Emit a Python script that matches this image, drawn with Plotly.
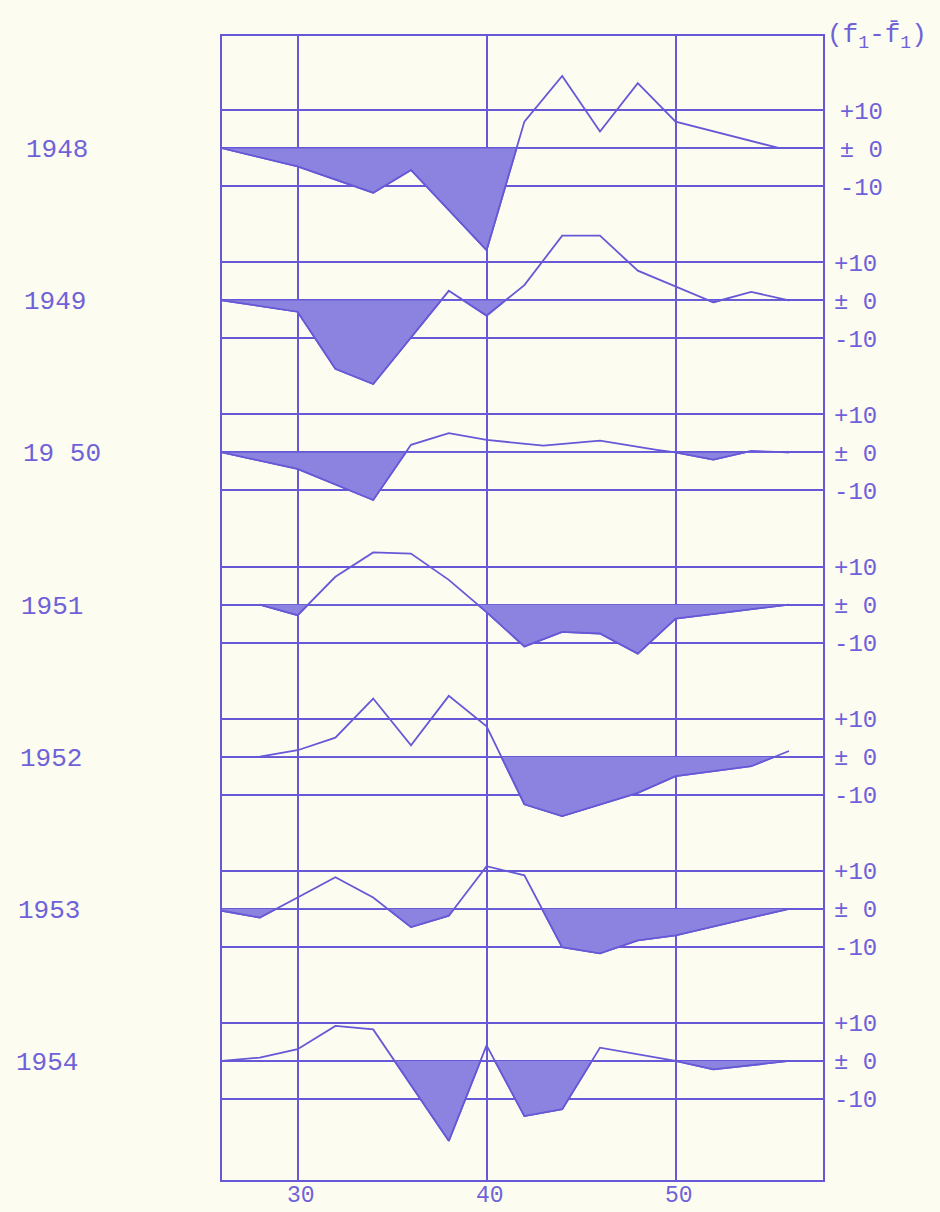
import plotly.graph_objects as go

# ---------------- data ----------------
YEARS = ["1948", "1949", "19 50", "1951", "1952", "1953", "1954"]

AGES_1948 = [26, 30, 34, 36, 40, 42, 44, 46, 48, 50, 55.5]
DEV_1948 = [0, -4.8, -11.7, -5.7, -26.8, 7.0, 19.0, 4.4, 17.1, 7.0, 0]

AGES_1949 = [26, 30, 32, 34, 38, 40, 42, 44, 46, 48, 52, 54, 56]
DEV_1949 = [0, -3.0, -18.0, -22.0, 2.5, -4.0, 4.0, 17.0, 17.0, 7.8, -0.5, 2.2, 0]

AGES_1950 = [26, 30, 34, 36, 38, 40, 43, 46, 49, 50, 52, 54, 56]
DEV_1950 = [0, -4.3, -12.5, 2.0, 5.1, 3.3, 1.8, 3.1, 0.7, 0, -1.9, 0.4, 0]

AGES_1951 = [28, 30, 32, 34, 36, 38, 40, 42, 44, 46, 48, 50, 56]
DEV_1951 = [0, -2.8, 7.3, 13.7, 13.4, 6.5, -2.0, -11.0, -7.2, -7.6, -12.9, -3.7, 0]

AGES_1952 = [28, 30, 32, 34, 36, 38, 40, 42, 44, 48, 50, 54, 56]
DEV_1952 = [0, 1.7, 5.0, 15.3, 3.0, 16.0, 8.0, -12.5, -15.6, -9.5, -5.1, -2.5, 1.5]

AGES_1953 = [26, 28, 30, 32, 34, 36, 38, 40, 42, 44, 46, 48, 50, 56]
DEV_1953 = [-0.5, -2.3, 3.0, 8.3, 3.0, -4.8, -1.8, 11.2, 8.8, -10.1, -11.7, -8.3, -7.0, 0]

AGES_1954 = [26, 28, 30, 32, 34, 38, 40, 42, 44, 46, 50, 52, 56]
DEV_1954 = [0, 0.9, 3.1, 9.2, 8.3, -21.0, 4.1, -14.5, -12.7, 3.5, 0, -2.2, 0]

SERIES = [
    (AGES_1948, DEV_1948), (AGES_1949, DEV_1949), (AGES_1950, DEV_1950),
    (AGES_1951, DEV_1951), (AGES_1952, DEV_1952), (AGES_1953, DEV_1953),
    (AGES_1954, DEV_1954),
]

X_TICKS = [30, 40, 50]
X_TICK_TEXT = ["30", "40", "50"]
Y_TICKS = [-10, 0, 10]
Y_TICK_TEXT = ["-10", "± 0", "+10"]

# ---------------- styling ----------------
INK = "#6658d6"
TEXT_INK = "#6f62d8"
FILL = "#8c83e0"
PAPER = "#fcfcf1"
FONT = "Liberation Mono"

ROW_STEP = 40          # units between row baselines
R0, R1 = -271.3, 29.5  # main (1948) axis range
SPAN = R1 - R0

fig = go.Figure()
layout_axes = {}
n = len(SERIES)

for k, (ages, dev) in enumerate(SERIES):
    line_axis = "y" if k == 0 else f"y{k + 1}"
    fill_axis = f"y{n + 1 + k}"
    # full line on a row axis
    fig.add_trace(go.Scatter(x=ages, y=dev, mode="lines", xaxis="x", yaxis=line_axis,
                             line=dict(color=INK, width=1.8), hoverinfo="skip",
                             showlegend=False))
    # negative part: axis whose domain ends at this row's zero line -> clipped there
    fig.add_trace(go.Scatter(x=ages, y=dev, mode="lines", xaxis="x", yaxis=fill_axis,
                             fill="tozeroy", fillcolor=FILL,
                             line=dict(color=INK, width=1.8), hoverinfo="skip",
                             showlegend=False))

    shift = ROW_STEP * k
    ax = dict(range=[R0 + shift, R1 + shift], side="right", tickvals=Y_TICKS,
              ticktext=Y_TICK_TEXT, showgrid=True, gridcolor=INK, gridwidth=2,
              zeroline=False, ticks="", ticklabelstandoff=10, automargin=False,
              tickfont=dict(family=FONT, size=24, color=TEXT_INK), fixedrange=True)
    if k == 0:
        ax.update(domain=[0, 1], showline=True, mirror=True, linecolor=INK, linewidth=2,
                  anchor="x")
        layout_axes["yaxis"] = ax
    else:
        ax.update(overlaying="y", anchor="x", showline=False)
        layout_axes[f"yaxis{k + 1}"] = ax

    z = (-shift - R0) / SPAN
    layout_axes[f"yaxis{n + 1 + k}"] = dict(domain=[0, z], range=[R0 + shift, 0],
                                            visible=False, anchor="x", fixedrange=True,
                                            automargin=False)

annotations = []
for k, year in enumerate(YEARS):
    annotations.append(dict(text=year, xref="paper", x=(24 - 1.6 * k - 222) / 601,
                            xanchor="left", yref="y" if k == 0 else f"y{k + 1}", y=0,
                            yanchor="middle", yshift=-2, showarrow=False,
                            font=dict(family=FONT, size=26, color=TEXT_INK)))

# x tick labels placed right under the frame
for v, t in zip(X_TICKS, X_TICK_TEXT):
    annotations.append(dict(text=t, xref="x", x=v + 0.2, xanchor="center", yref="paper",
                            y=0, yanchor="top", yshift=-1, showarrow=False,
                            font=dict(family=FONT, size=23, color=TEXT_INK)))

annotations.append(dict(text="(f<sub>1</sub>-f\u0304<sub>1</sub>)", xref="paper", x=1.004,
                        xanchor="left", yref="paper", y=1.0, yanchor="middle", yshift=0,
                        showarrow=False, font=dict(family=FONT, size=26, color=TEXT_INK)))

fig.update_layout(
    width=940, height=1212, autosize=False,
    margin=dict(l=222, r=117, t=36, b=32),
    paper_bgcolor=PAPER, plot_bgcolor="rgba(0,0,0,0)",
    showlegend=False,
    xaxis=dict(range=[26, 57.8], tickvals=X_TICKS, showticklabels=False,
               showgrid=True, gridcolor=INK, gridwidth=2, zeroline=False,
               showline=True, mirror=True, linecolor=INK, linewidth=2, ticks="",
               anchor="y", automargin=False, fixedrange=True),
    annotations=annotations,
    **layout_axes,
)

fig.write_html(
    "out.html",
    config={"displayModeBar": False},
    post_script="document.body.style.margin='0';document.body.style.background='" + PAPER + "';",
)
